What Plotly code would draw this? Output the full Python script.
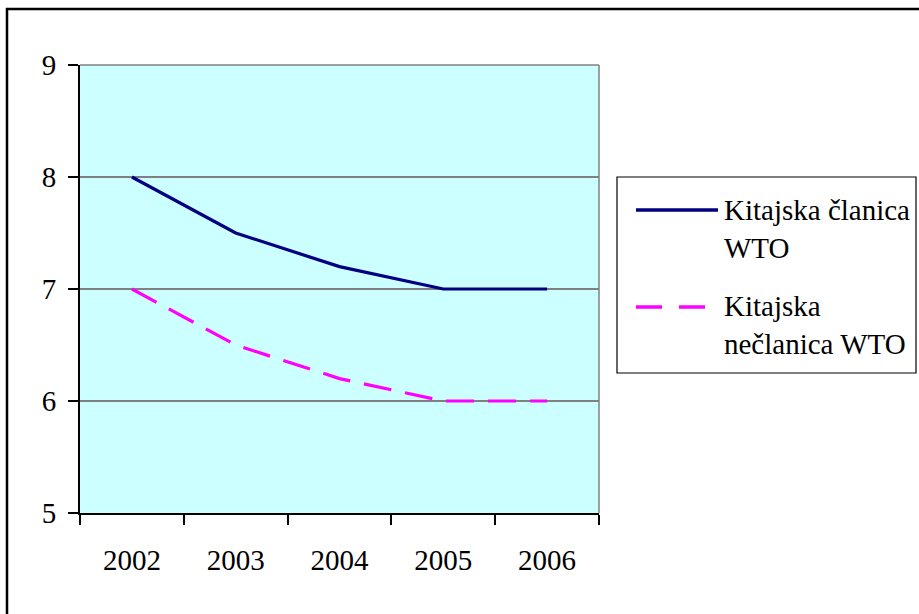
import plotly.graph_objects as go

years = ["2002", "2003", "2004", "2005", "2006"]
clanica = [8.0, 7.5, 7.2, 7.0, 7.0]
neclanica = [7.0, 6.5, 6.2, 6.0, 6.0]
names = ["Kitajska članica<br>WTO", "Kitajska<br>nečlanica WTO"]
colors = ["#000080", "#FF00FF"]
dashes = ["solid", "28px,14px"]
legend_dashes = ["solid", "26px,17px"]
y_ticks = [5, 6, 7, 8, 9]

W, H = 919, 614
L, R, T, B = 80, 599, 65, 513
FONT = "'Liberation Serif', 'Times New Roman', Times, 'DejaVu Serif', serif"


def px(x):
    return (x - L) / (R - L)


def py(y):
    return (B - y) / (B - T)


fig = go.Figure()
for vals, name, col, dsh in zip([clanica, neclanica], names, colors, dashes):
    fig.add_trace(go.Scatter(x=years, y=vals, mode="lines", name=name,
                             line=dict(color=col, width=3.2, dash=dsh),
                             showlegend=False))

shapes = []
# top and right plot-area border (gray)
shapes.append(dict(type="line", xref="paper", yref="paper", x0=0, x1=1, y0=1, y1=1,
                   line=dict(color="#808080", width=1.5)))
shapes.append(dict(type="line", xref="paper", yref="paper", x0=1, x1=1, y0=0, y1=1,
                   line=dict(color="#808080", width=1.5)))
# outer chart border (clipped at right/bottom)
shapes.append(dict(type="rect", xref="paper", yref="paper", x0=px(7), x1=px(930),
                   y0=py(630), y1=py(9), line=dict(color="black", width=2.5)))
# legend box
shapes.append(dict(type="rect", xref="paper", yref="paper", x0=px(617), x1=px(916),
                   y0=py(373), y1=py(177), line=dict(color="black", width=1.2),
                   fillcolor="white"))

annotations = []
leg_line_y = [210, 307]
leg_text_y = [229, 325]
for i, (name, col, dsh) in enumerate(zip(names, colors, legend_dashes)):
    shapes.append(dict(type="line", xref="paper", yref="paper",
                       x0=px(636), x1=px(718), y0=py(leg_line_y[i]), y1=py(leg_line_y[i]),
                       line=dict(color=col, width=3.5, dash=dsh)))
    annotations.append(dict(xref="paper", yref="paper", x=px(722), y=py(leg_text_y[i]),
                            xanchor="left", yanchor="middle", align="left",
                            text=name, showarrow=False,
                            font=dict(family=FONT, size=29, color="black")))

fig.update_layout(
    width=W, height=H,
    margin=dict(l=L, r=W - R, t=T, b=H - B, pad=0),
    paper_bgcolor="white",
    plot_bgcolor="#CCFFFF",
    font=dict(family=FONT, size=29, color="black"),
    shapes=shapes,
    annotations=annotations,
    xaxis=dict(type="category", range=[-0.5, 4.5], tickson="boundaries",
               showgrid=False, ticks="outside", ticklen=10, tickwidth=2,
               tickcolor="black", showline=True, linecolor="black", linewidth=2,
               ticklabelstandoff=20, zeroline=False),
    yaxis=dict(range=[5, 9], tickvals=y_ticks, ticks="outside", ticklen=10,
               tickwidth=2, tickcolor="black", showline=True, linecolor="black",
               linewidth=2, showgrid=True, gridcolor="#808080", gridwidth=1.5,
               zeroline=False, ticklabelstandoff=6),
)

fig.write_html("out.html", config={"displayModeBar": False},
               post_script="document.body.style.margin='0';")
